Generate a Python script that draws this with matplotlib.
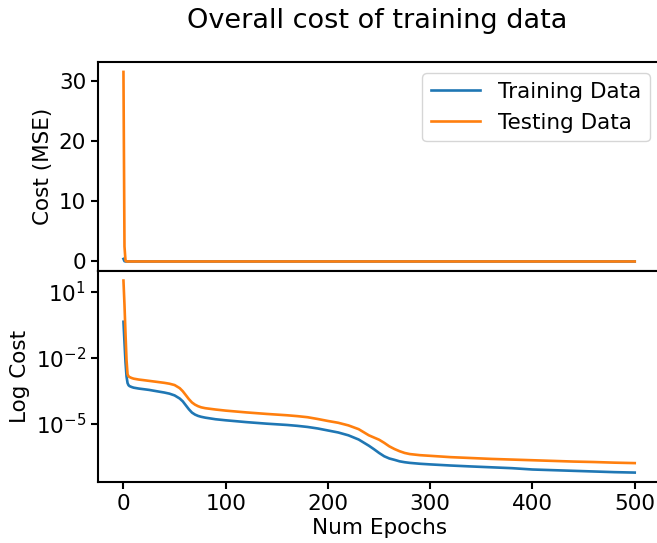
import matplotlib
matplotlib.use("Agg")
import matplotlib.pyplot as plt
from matplotlib.ticker import NullLocator

# cost per epoch, read at a set of epochs
epochs = [0, 1, 2, 3, 4, 5, 6, 8, 10, 15, 20, 25, 30, 35, 40, 45, 50, 55, 58, 61,
          64, 67, 70, 73, 76, 80, 90, 100, 110, 120, 140, 160, 170, 180, 190, 200,
          210, 220, 230, 240, 245, 250, 255, 260, 265, 270, 275, 280, 290, 300,
          320, 340, 360, 380, 400, 420, 440, 460, 480, 500]

train_cost = [0.427, 5.01e-2, 6.31e-3, 1.41e-3, 7.08e-4, 5.62e-4, 5.13e-4, 4.68e-4,
              4.37e-4, 3.98e-4, 3.72e-4, 3.47e-4, 3.16e-4, 2.88e-4, 2.63e-4, 2.34e-4,
              1.95e-4, 1.41e-4, 1.05e-4, 6.92e-5, 4.57e-5, 3.24e-5, 2.63e-5, 2.29e-5,
              2.09e-5, 1.91e-5, 1.62e-5, 1.45e-5, 1.32e-5, 1.20e-5, 1.02e-5, 8.91e-6,
              8.13e-6, 7.24e-6, 6.17e-6, 5.01e-6, 4.07e-6, 3.02e-6, 1.95e-6, 1.02e-6,
              7.08e-7, 4.79e-7, 3.39e-7, 2.69e-7, 2.34e-7, 2.00e-7, 1.82e-7, 1.70e-7,
              1.55e-7, 1.45e-7, 1.29e-7, 1.17e-7, 1.07e-7, 9.77e-8, 8.51e-8, 7.94e-8,
              7.41e-8, 6.92e-8, 6.46e-8, 6.17e-8]

test_cost = [31.5, 2.51, 0.126, 7.94e-3, 1.78e-3, 1.41e-3, 1.32e-3, 1.20e-3,
             1.12e-3, 1.02e-3, 9.55e-4, 8.91e-4, 8.32e-4, 7.76e-4, 7.24e-4, 6.61e-4,
             5.75e-4, 4.17e-4, 3.02e-4, 2.00e-4, 1.32e-4, 9.33e-5, 7.41e-5, 6.31e-5,
             5.62e-5, 5.13e-5, 4.47e-5, 3.98e-5, 3.63e-5, 3.31e-5, 2.82e-5, 2.45e-5,
             2.24e-5, 2.00e-5, 1.66e-5, 1.35e-5, 1.12e-5, 8.51e-6, 5.75e-6, 3.02e-6,
             2.40e-6, 1.91e-6, 1.38e-6, 9.55e-7, 7.24e-7, 5.75e-7, 4.79e-7, 4.27e-7,
             3.80e-7, 3.55e-7, 3.09e-7, 2.82e-7, 2.57e-7, 2.40e-7, 2.24e-7, 2.09e-7,
             1.95e-7, 1.86e-7, 1.74e-7, 1.66e-7]

log_ticks = [1e1, 1e-2, 1e-5]

plt.rcParams["font.size"] = 15.5
plt.rcParams["axes.linewidth"] = 1.5
plt.rcParams["xtick.major.width"] = 1.5
plt.rcParams["ytick.major.width"] = 1.5
plt.rcParams["xtick.major.size"] = 5
plt.rcParams["ytick.major.size"] = 5

fig = plt.figure(figsize=(6.57, 5.43), dpi=100)
ax1 = fig.add_axes([0.149, 0.501, 0.856, 0.384])
ax2 = fig.add_axes([0.149, 0.112, 0.856, 0.389], sharex=ax1)

ax1.plot(epochs, train_cost, lw=1.9, label="Training Data")
ax1.plot(epochs, test_cost, lw=1.9, label="Testing Data")
ax1.set_ylabel("Cost (MSE)")
ax1.tick_params(axis="x", bottom=False, labelbottom=False)
ax1.legend(loc="upper right", handlelength=2.3)

ax2.plot(epochs, train_cost, lw=1.9)
ax2.plot(epochs, test_cost, lw=1.9)
ax2.set_yscale("log")
ax2.set_yticks(log_ticks)
ax2.yaxis.set_minor_locator(NullLocator())
ax2.set_ylabel("Log Cost")
ax2.set_xlabel("Num Epochs", labelpad=3)

fig.text(0.574, 0.948, "Overall cost of training data", ha="center", fontsize=19.5)

fig.savefig("out.png", dpi=100)
